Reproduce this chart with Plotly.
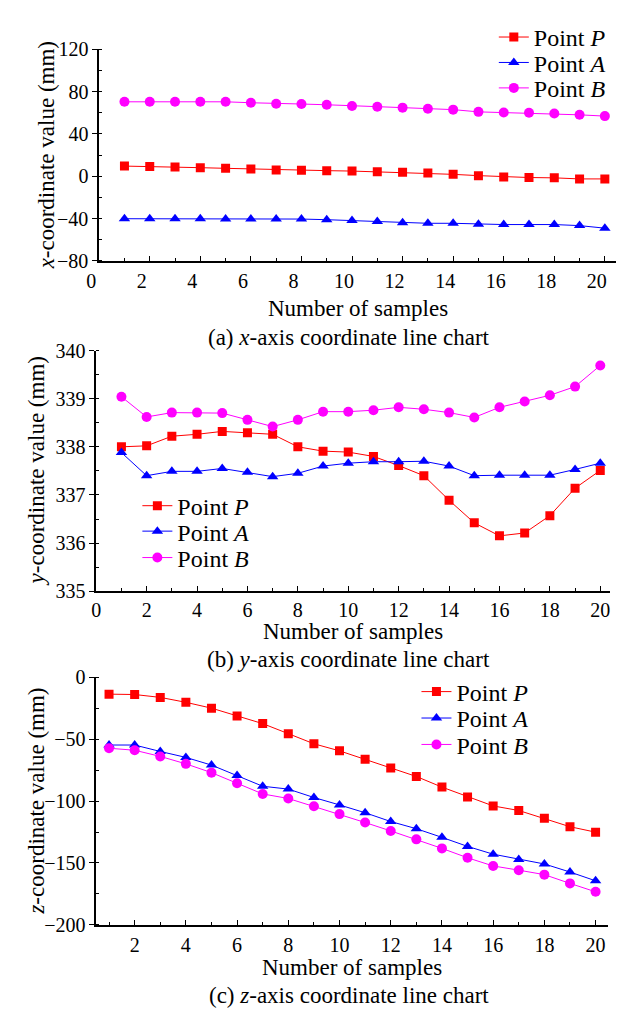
import plotly.graph_objects as go

# ---------------- data ----------------
samples = list(range(1, 21))

x_P = [9.6, 9.3, 8.7, 8.1, 7.5, 6.9, 5.9, 5.6, 5.3, 4.9, 4.3, 3.7, 3.0, 1.8, 0.6, -0.6, -1.2, -1.5, -2.5, -2.5]
x_A = [-40.1, -40.1, -40.1, -40.1, -40.4, -40.4, -40.4, -40.4, -41.0, -41.7, -42.6, -43.8, -44.4, -44.4, -45.3, -45.6, -45.6, -45.6, -46.6, -49.0]
x_B = [70.3, 70.3, 70.3, 70.3, 70.3, 69.4, 68.5, 68.2, 67.5, 66.3, 65.7, 64.8, 63.8, 62.9, 60.8, 60.2, 59.9, 59.3, 58.0, 56.8]

y_P = [338.00, 338.02, 338.22, 338.26, 338.32, 338.29, 338.26, 338.00, 337.91, 337.89, 337.80, 337.61, 337.40, 336.89, 336.42, 336.15, 336.21, 336.57, 337.14, 337.51]
y_A = [337.88, 337.40, 337.49, 337.49, 337.55, 337.47, 337.38, 337.45, 337.60, 337.66, 337.69, 337.69, 337.70, 337.60, 337.40, 337.41, 337.41, 337.41, 337.53, 337.66]
y_B = [339.04, 338.62, 338.71, 338.71, 338.70, 338.56, 338.42, 338.56, 338.73, 338.73, 338.76, 338.82, 338.78, 338.71, 338.61, 338.82, 338.94, 339.07, 339.25, 339.69]

z_P = [-13.6, -13.9, -16.2, -20.2, -24.9, -31.2, -37.4, -45.5, -53.7, -59.4, -66.2, -73.3, -80.1, -88.7, -96.6, -103.9, -107.6, -113.9, -120.7, -125.1]
z_A = [-54.7, -54.7, -59.9, -64.7, -70.9, -79.3, -88.0, -90.3, -97.1, -103.1, -109.4, -116.5, -122.3, -129.3, -136.6, -142.9, -147.1, -150.8, -157.3, -164.4]
z_B = [-57.3, -58.9, -63.9, -69.9, -77.0, -85.6, -94.2, -97.9, -104.2, -110.5, -117.3, -124.1, -130.9, -138.2, -145.8, -152.4, -155.8, -159.4, -166.5, -173.3]

series_names = ["Point <i>P</i>", "Point <i>A</i>", "Point <i>B</i>"]
captions = ["(a) <i>x</i>-axis coordinate line chart",
            "(b) <i>y</i>-axis coordinate line chart",
            "(c) <i>z</i>-axis coordinate line chart"]
y_titles = ["<i>x</i>-coordinate value (mm)",
            "<i>y</i>-coordinate value (mm)",
            "<i>z</i>-coordinate value (mm)"]
x_title = "Number of samples"

# ---------------- style ----------------
W, H = 627, 1021
FONT = "Liberation Serif"
colors = ["#FF0000", "#0000FF", "#FF00FF"]
symbols = ["square", "triangle-up", "circle"]
msizes = [9, 10, 10]
TICK_FS, TITLE_FS, CAP_FS, LEG_FS = 20, 23, 23, 24

# panel boxes in pixels: (left, right, top, bottom)
boxes = [(88, 616, 39, 255.5), (85, 610, 347, 593), (85, 608, 681, 934)]
# legend item centres (marker x, y) in pixels
leg_pos = [[(513, 27), (513, 53), (513, 79)],
           [(149, 506), (149, 532), (149, 559)],
           [(434, 696), (434, 723), (434, 750)]]
caption_y = [334, 663, 1006]
xtitle_y = [304, 634, 978]
ytitle_x = [34, 24, 24]
label_standoff = [1, 0, 1]
label_shift = [-8, 0, 0]

def px(x):
    return x / W

def py(y):
    return 1 - y / H

fig = go.Figure()
data = [(x_P, x_A, x_B), (y_P, y_A, y_B), (z_P, z_A, z_B)]
leg_idx = 0
for p in range(3):
    ax_sfx = "" if p == 0 else str(p + 1)
    for s in range(3):
        leg_idx += 1
        lname = "legend" if leg_idx == 1 else f"legend{leg_idx}"
        fig.add_trace(go.Scatter(
            x=samples, y=data[p][s], name=series_names[s], mode="lines+markers",
            line=dict(color=colors[s], width=1),
            marker=dict(color=colors[s], symbol=symbols[s], size=msizes[s]),
            xaxis="x" + ax_sfx, yaxis="y" + ax_sfx, legend=lname,
            showlegend=True))
        mx, my = leg_pos[p][s]
        fig.layout[lname] = dict(
            x=px(mx - 22), y=py(my), xanchor="left", yanchor="middle",
            font=dict(family=FONT, size=LEG_FS, color="black"),
            bgcolor="rgba(0,0,0,0)", borderwidth=0)

x_ranges = [[0, 20.45], [0, 20.4], [0.5, 20.5]]
y_ranges = [[-80, 120], [335, 340], [-200, 0]]
y_dticks = [40, 1, 50]

for p in range(3):
    l, r, t, b = boxes[p]
    sfx = "" if p == 0 else str(p + 1)
    xa = dict(
        domain=[px(l), px(r)], range=x_ranges[p], anchor="y" + sfx,
        showline=True, linecolor="black", linewidth=1.6, mirror=False,
        showgrid=False, zeroline=False,
        tickmode="linear", tick0=0, dtick=2,
        ticks="inside", ticklen=5, tickwidth=1.2, tickcolor="black",
        minor=dict(dtick=1, tick0=0, ticks="inside", ticklen=3, tickwidth=1.2, tickcolor="black"),
        tickfont=dict(family=FONT, size=TICK_FS, color="black"),
        ticklabelstandoff=label_standoff[p], ticklabelshift=label_shift[p],
        fixedrange=True)
    ya = dict(
        domain=[py(b), py(t)], range=y_ranges[p], anchor="x" + sfx,
        showline=True, linecolor="black", linewidth=1.6, mirror=False,
        showgrid=False, zeroline=False,
        tickmode="linear", tick0=y_ranges[p][0], dtick=y_dticks[p],
        ticks="outside", ticklen=5, tickwidth=1.2, tickcolor="black",
        minor=dict(dtick=y_dticks[p] / 2, ticks="inside", ticklen=3, tickwidth=1.2, tickcolor="black"),
        tickfont=dict(family=FONT, size=TICK_FS, color="black"),
        fixedrange=True)
    fig.layout["xaxis" + sfx] = xa
    fig.layout["yaxis" + sfx] = ya
    # x-axis title
    fig.add_annotation(text=x_title, x=px((l + r) / 2), y=py(xtitle_y[p]),
                       xref="paper", yref="paper", xanchor="center", yanchor="middle",
                       showarrow=False, font=dict(family=FONT, size=TITLE_FS, color="black"))
    # y-axis title
    fig.add_annotation(text=y_titles[p], x=px(ytitle_x[p]), y=py((t + b) / 2),
                       xref="paper", yref="paper", xanchor="center", yanchor="middle",
                       textangle=-90, showarrow=False,
                       font=dict(family=FONT, size=TITLE_FS, color="black"))
    # caption
    fig.add_annotation(text=captions[p], x=px(343), y=py(caption_y[p]),
                       xref="paper", yref="paper", xanchor="center", yanchor="middle",
                       showarrow=False, font=dict(family=FONT, size=CAP_FS, color="black"))

fig.update_layout(
    width=W, height=H, margin=dict(l=0, r=0, t=0, b=0),
    paper_bgcolor="white", plot_bgcolor="white",
    font=dict(family=FONT, color="black"),
)

fig.write_html("out.html")
